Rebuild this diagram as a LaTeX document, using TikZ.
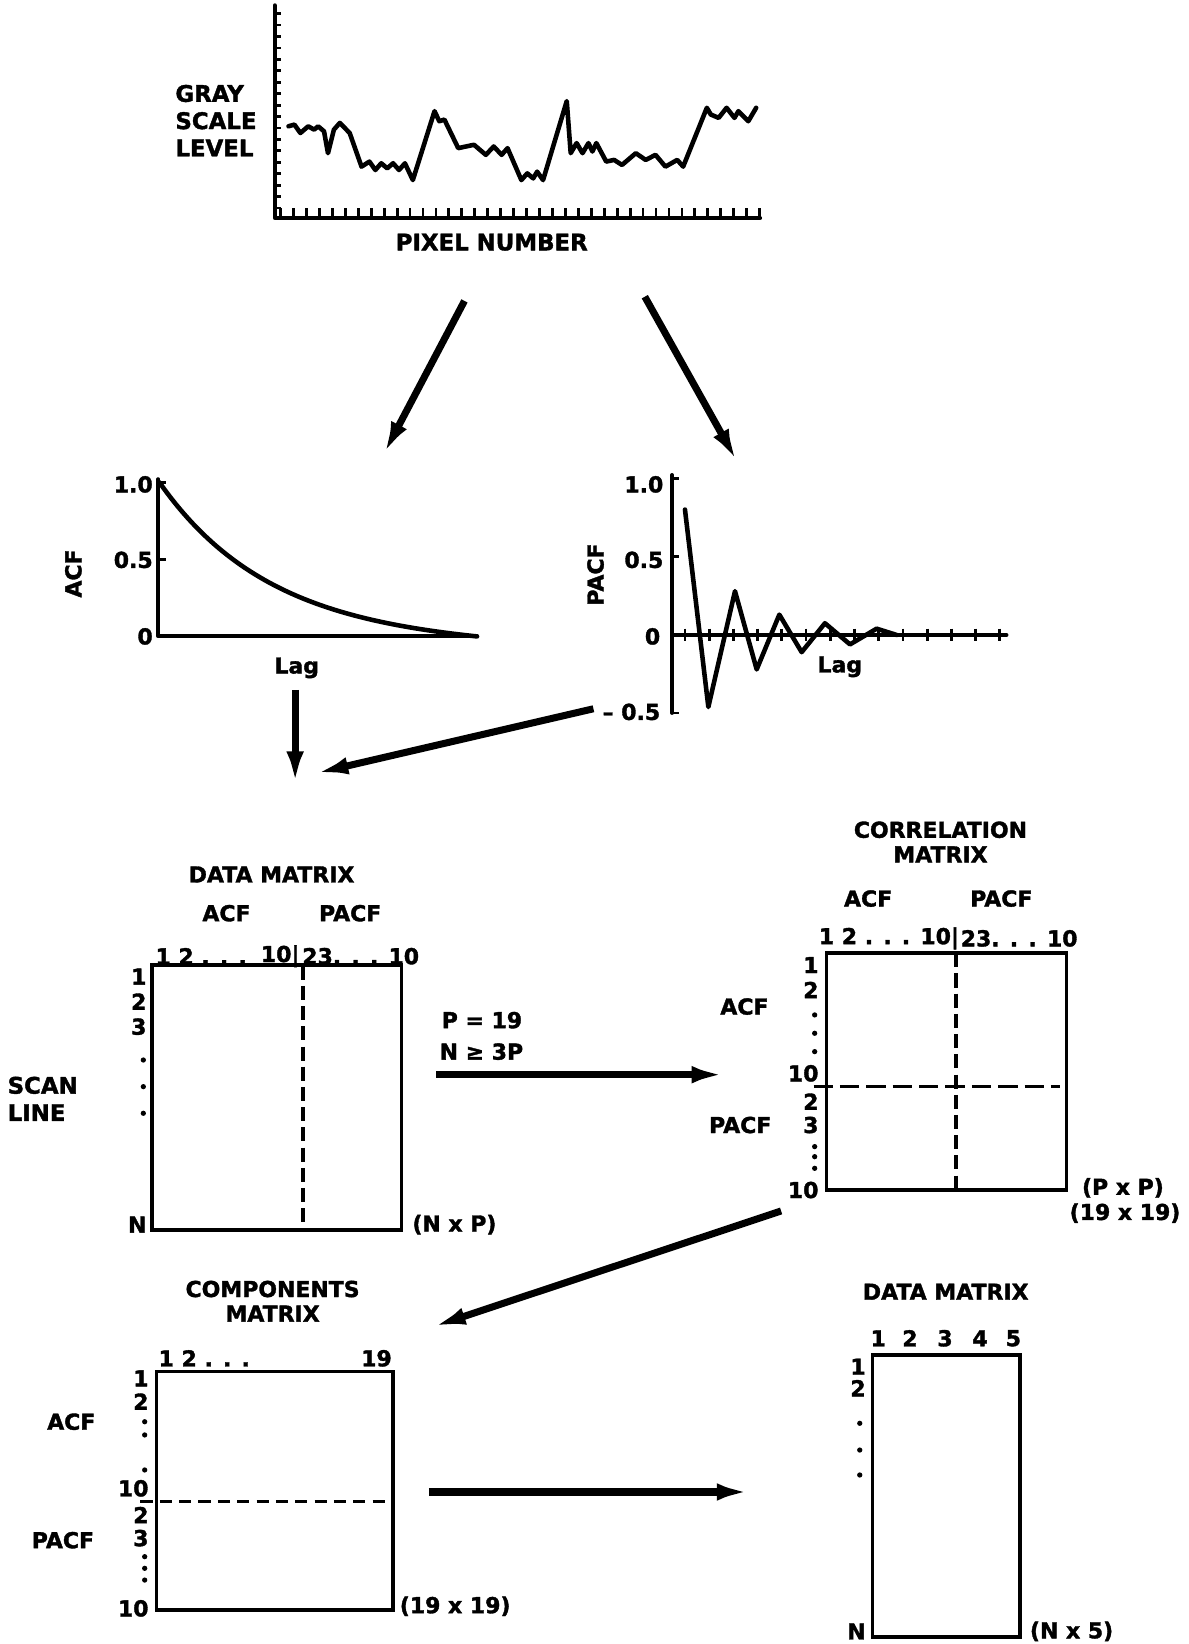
\documentclass[tikz,border=0pt]{standalone}
\usepackage{fontspec}
\setmainfont{DejaVu Sans}[BoldFeatures={FakeBold=1.6}]
\usetikzlibrary{arrows.meta}
\tikzset{
  lbl/.style={font=\fontsize{12.5}{14}\selectfont\bfseries,inner sep=0pt,text=black},
  biglbl/.style={font=\fontsize{13}{15.5}\selectfont\bfseries,inner sep=0pt,text=black},
  axisline/.style={line width=2.2pt,line cap=round,line join=round},
  tickmk/.style={line width=1.6pt},
  trace/.style={line width=2.6pt,line join=round,line cap=round},
  matbox/.style={line width=2.1pt},
  splitline/.style={line width=2.1pt,dash pattern=on 8pt off 3.5pt},
  flow/.style={-{Latex[length=7mm,width=3.4mm]},line width=4pt}
}

\begin{document}
\begin{tikzpicture}[x=0.02097cm,y=-0.02097cm]
  \useasboundingbox (0,0) rectangle (1134,1568);

  % gray level along one scan line
  \begin{scope}[shift={(147.2,-3.02)},xscale=0.3764,yscale=0.3207]
    \draw[axisline] (305,25) -- (305,658) -- (1535,658);
    \foreach \k in {0,...,17} \draw[tickmk] (305,50+34*\k) -- (322,50+34*\k);
    \foreach \k in {0,...,37} \draw[tickmk] (320+32.8*\k,658) -- (320+32.8*\k,628);
    \draw[trace] (340,385) -- (355,380) -- (370,405) -- (390,385) -- (405,395) -- (415,385) -- (430,400)
      -- (440,465) -- (455,395) -- (470,375) -- (495,405) -- (525,505) -- (545,490) -- (560,515)
      -- (575,495) -- (590,510) -- (605,495) -- (620,515) -- (635,495) -- (655,545) -- (710,340)
      -- (722,370) -- (735,365) -- (770,450) -- (790,445) -- (810,440) -- (840,470) -- (860,445)
      -- (880,470) -- (895,450) -- (930,545) -- (945,525) -- (960,540) -- (970,520) -- (985,545)
      -- (1045,310) -- (1055,465) -- (1070,435) -- (1085,465) -- (1100,435) -- (1110,460) -- (1120,435)
      -- (1145,490) -- (1165,485) -- (1185,500) -- (1220,465) -- (1245,485) -- (1270,470) -- (1295,505)
      -- (1325,485) -- (1340,505) -- (1400,330) -- (1410,350) -- (1430,360) -- (1450,330) -- (1470,360)
      -- (1480,340) -- (1505,370) -- (1525,330);
  \end{scope}
  \node[biglbl,align=left,anchor=west] (gsl) at (167,115) {GRAY\\SCALE\\LEVEL};
  \node[biglbl] (pxn) at (469,231) {PIXEL NUMBER};

  \coordinate (trL) at (443,287);
  \coordinate (acfIn) at (365,435);
  \coordinate (trR) at (615,283);
  \coordinate (pacfIn) at (704,442);
  \draw[flow] (trL) -- (acfIn);
  \draw[flow] (trR) -- (pacfIn);

  % ACF
  \draw[axisline] (151,457) -- (151,607) -- (455,607);
  \draw[tickmk] (151,460) -- (158,460);
  \draw[tickmk] (151,534) -- (158,534);
  \draw[trace] plot[domain=152:455,samples=80] (\x,{607-147*(exp(-(\x-152)/105)-0.0558*(\x-152)/303)});
  \node[lbl,anchor=east] (acf1) at (146,462) {1.0};
  \node[lbl,anchor=east] (acf5) at (146,534) {0.5};
  \node[lbl,anchor=east] (acf0) at (146,607) {0};
  \node[lbl,rotate=90] (acfY) at (70,547) {ACF};
  \node[lbl] (acfX) at (283,637) {Lag};

  % PACF
  \draw[axisline] (641,453) -- (641,680);
  \draw[tickmk] (641,456) -- (648,456);
  \draw[tickmk] (641,531) -- (648,531);
  \draw[tickmk] (641,680) -- (648,680);
  \draw[axisline] (641,605.6) -- (960,605.6);
  \foreach \k in {0,...,13} \draw[tickmk] (653.3+23.1*\k,599.5) -- (653.3+23.1*\k,611.5);
  \draw[trace] (653.3,486) -- (675.6,674.3) -- (701,563.8) -- (721.7,638.5) -- (743.3,586.2)
    -- (764.6,622) -- (786.8,594.4) -- (810.7,614.6) -- (836.1,599.6) -- (855.2,605.6);
  \node[lbl,anchor=east] (pacf1) at (633,462) {1.0};
  \node[lbl,anchor=east] (pacf5) at (633,534) {0.5};
  \node[lbl,anchor=east] (pacf0) at (630,607) {0};
  \node[lbl,anchor=east] (pacfm) at (630,679) {-- 0.5};
  \node[lbl,rotate=90] (pacfY) at (568,548) {PACF};
  \node[lbl] (pacfX) at (801,636) {Lag};

  \coordinate (acfOut) at (281.5,658);
  \coordinate (dmIn) at (281.5,750);
  \coordinate (pacfOut) at (566,676);
  \coordinate (dmIn2) at (299,738);
  \draw[flow] (acfOut) -- (dmIn);
  \draw[flow] (pacfOut) -- (dmIn2);

  % data matrix N x P
  \node[lbl] (dmT) at (259,834) {DATA MATRIX};
  \node[lbl] (dmA) at (216,871) {ACF};
  \node[lbl] (dmP) at (334,871) {PACF};
  \node[lbl,anchor=west] (dmC1) at (148,912) {1 2 . . .};
  \node[lbl,anchor=east] (dmC2) at (286,912) {10|};
  \node[lbl,anchor=west] (dmC3) at (288,912) {23. . . 10};
  \draw[matbox] (145,920.5) rectangle (383,1173);
  \draw[splitline] (288.7,921) -- (288.7,1173);
  \node[lbl,anchor=east] (dmR1) at (140,931.5) {1};
  \node[lbl,anchor=east] (dmR2) at (140,955.3) {2};
  \node[lbl,anchor=east] (dmR3) at (140,979.2) {3};
  \foreach \y in {1011,1036.4,1061.8} \fill (136.7,\y) circle[radius=1.5pt];
  \node[lbl,anchor=east] (dmRN) at (140,1168) {N};
  \node[biglbl,align=left,anchor=west] (scan) at (7,1048) {SCAN\\LINE};
  \node[lbl,anchor=west] (dmS) at (393,1168) {(N x P)};

  \node[lbl,anchor=west] (pcond) at (421,973) {P = 19};
  \node[lbl,anchor=west] (ncond) at (419,1003) {N ≥ 3P};
  \coordinate (dmOut) at (416,1025);
  \coordinate (cmIn) at (693,1025);
  \draw[flow] (dmOut) -- (cmIn);

  % correlation matrix
  \node[lbl,align=center] (cmT) at (897,803) {CORRELATION\\MATRIX};
  \node[lbl] (cmA) at (828,857) {ACF};
  \node[lbl] (cmP) at (955,857) {PACF};
  \node[lbl,anchor=east] (cmC1) at (915,895) {1 2 . . . 10|};
  \node[lbl,anchor=west] (cmC2) at (916,895) {23. . . 10};
  \draw[matbox] (788.4,909.2) rectangle (1017.3,1135);
  \draw[splitline] (911.8,909.2) -- (911.8,1135);
  \draw[splitline,dash pattern=on 11pt off 4pt] (776,1036.4) -- (1011,1036.4);
  \node[lbl,anchor=east] (cmR1) at (781,920.4) {1};
  \node[lbl,anchor=east] (cmR2) at (781,944.2) {2};
  \foreach \y in {968,985.5,1003} \fill (777,\y) circle[radius=1.5pt];
  \node[lbl,anchor=east] (cmR10) at (781,1023.7) {10};
  \node[lbl,anchor=east] (cmR2b) at (781,1050.7) {2};
  \node[lbl,anchor=east] (cmR3b) at (781,1073) {3};
  \foreach \y in {1093.6,1103.2,1114.3} \fill (777,\y) circle[radius=1.5pt];
  \node[lbl,anchor=east] (cmR10b) at (781,1135) {10};
  \node[lbl] (cmRA) at (710,960) {ACF};
  \node[lbl] (cmRP) at (706,1073) {PACF};
  \node[lbl] (cmS1) at (1071,1133) {(P x P)};
  \node[lbl] (cmS2) at (1073,1157) {(19 x 19)};

  \coordinate (cmOut) at (745,1155);
  \coordinate (cpIn) at (411,1266);
  \draw[flow] (cmOut) -- (cpIn);

  % components matrix
  \node[lbl,align=center] (cpT) at (260,1241) {COMPONENTS\\MATRIX};
  \node[lbl,anchor=west] (cpC1) at (151,1295.5) {1 2 . . .};
  \node[lbl,anchor=east] (cpC2) at (374,1295.5) {19};
  \draw[matbox] (149.4,1308.2) rectangle (375.1,1535.5);
  \draw[splitline,dash pattern=on 7pt off 4pt] (134,1432.2) -- (373,1432.2);
  \node[lbl,anchor=east] (cpR1) at (142,1314.6) {1};
  \node[lbl,anchor=east] (cpR2) at (142,1336.8) {2};
  \foreach \y in {1356,1368.6,1402} \fill (138,\y) circle[radius=1.5pt];
  \node[lbl,anchor=east] (cpR10) at (142,1419.5) {10};
  \node[lbl,anchor=east] (cpR2b) at (142,1445) {2};
  \node[lbl,anchor=east] (cpR3b) at (142,1467) {3};
  \foreach \y in {1484.7,1495.8,1507} \fill (138,\y) circle[radius=1.5pt];
  \node[lbl,anchor=east] (cpR10b) at (142,1534) {10};
  \node[lbl] (cpRA) at (68,1356) {ACF};
  \node[lbl] (cpRP) at (60,1469) {PACF};
  \node[lbl,anchor=west] (cpS) at (381,1532) {(19 x 19)};

  \coordinate (cpOut) at (409,1423);
  \coordinate (dfIn) at (717,1423);
  \draw[flow] (cpOut) -- (dfIn);

  % data matrix N x 5
  \node[lbl] (dfT) at (902,1232) {DATA MATRIX};
  \foreach \x [count=\i] in {837.7,867.9,901.3,934.7,966.5}
    \node[lbl] (dfC\i) at (\x,1276.4) {\i};
  \draw[matbox] (832.3,1292.3) rectangle (972.8,1561);
  \node[lbl,anchor=east] (dfR1) at (826,1303.5) {1};
  \node[lbl,anchor=east] (dfR2) at (826,1324) {2};
  \foreach \y in {1357.5,1383,1406.8} \fill (820,\y) circle[radius=1.5pt];
  \node[lbl,anchor=east] (dfRN) at (826,1556) {N};
  \node[lbl,anchor=west] (dfS) at (982,1556) {(N x 5)};
\end{tikzpicture}
\end{document}
